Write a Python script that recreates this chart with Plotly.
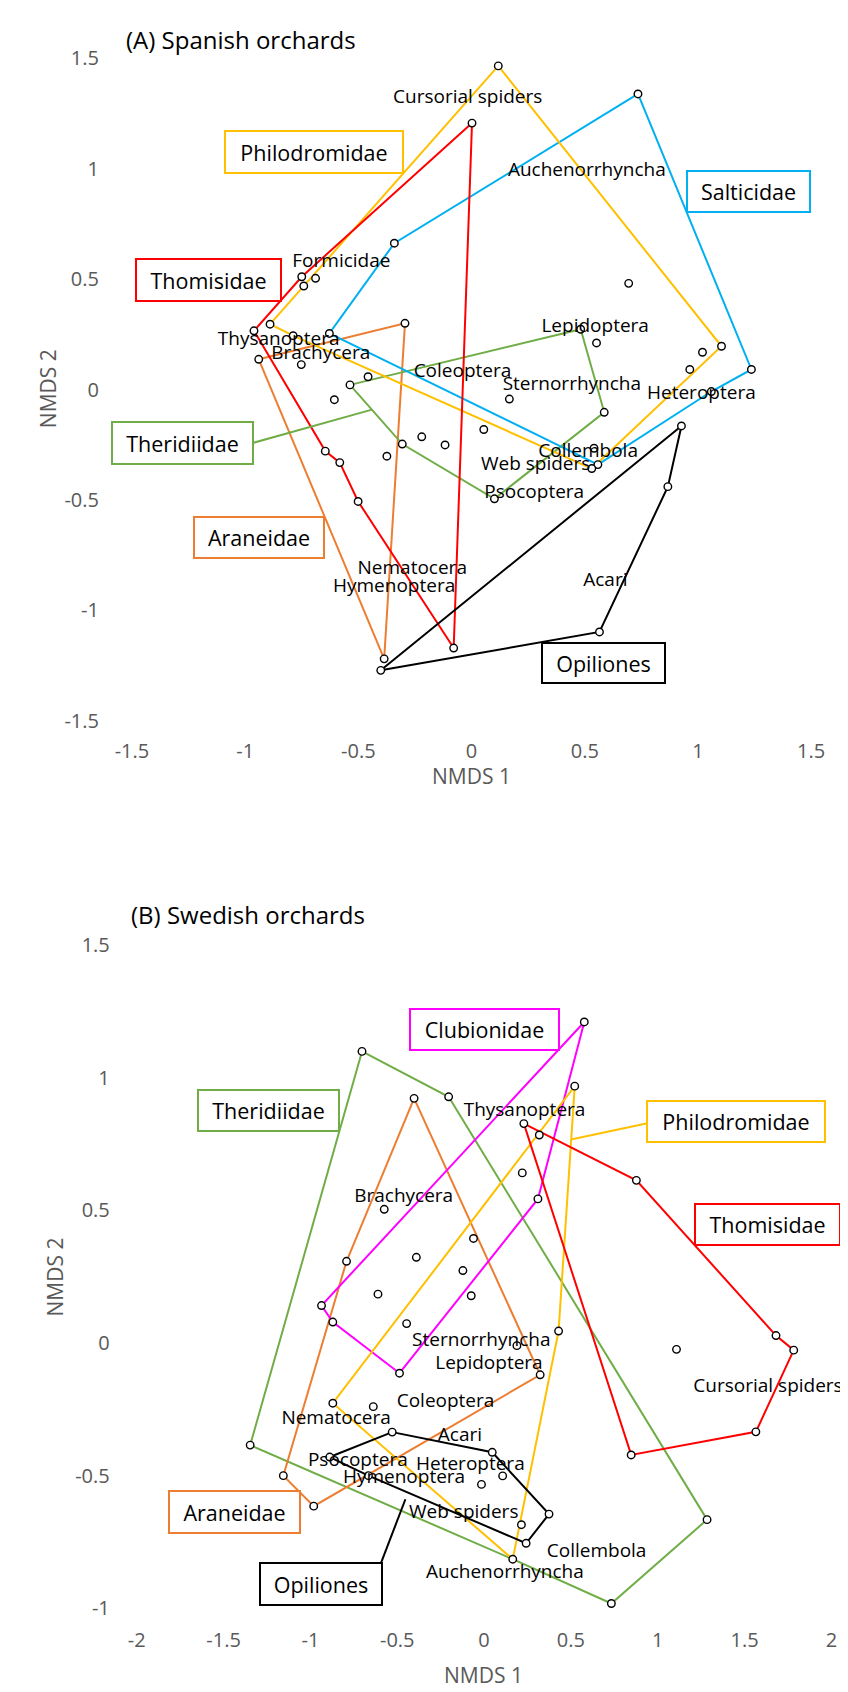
import plotly.graph_objects as go

W, H = 848, 1692
FONT = "Open Sans"

# ---------------- Panel A: Spanish orchards ----------------
a_x = [0.118, 0.735, 0.002, -0.750, -0.689, -0.741, -0.341, 0.694, -0.961, -0.890,
       -0.788, -0.628, -0.294, -0.940, -0.752, 0.482, 0.552, 1.104, 1.020, 0.964,
       1.236, 1.059, -0.457, -0.537, -0.606, 0.167, 0.586, 0.927, 0.054, -0.220,
       -0.117, -0.306, -0.374, -0.646, -0.582, 0.541, 0.558, 0.531, 0.101, 0.867,
       -0.501, 0.565, -0.079, -0.386, -0.401]
a_y = [1.466, 1.339, 1.207, 0.511, 0.504, 0.469, 0.663, 0.481, 0.266, 0.296,
       0.244, 0.254, 0.300, 0.137, 0.113, 0.273, 0.211, 0.196, 0.169, 0.091,
       0.091, -0.009, 0.058, 0.021, -0.046, -0.043, -0.103, -0.165, -0.181, -0.214,
       -0.251, -0.247, -0.302, -0.279, -0.331, -0.266, -0.340, -0.358, -0.495, -0.440,
       -0.507, -1.098, -1.171, -1.220, -1.272]
# hull vertex indices (1-based, order of the point lists above)
a_thomisidae = [3, 4, 9, 34, 35, 41, 43]
a_philodromidae = [1, 18, 38, 11, 10, 6]
a_salticidae = [2, 21, 22, 37, 12, 7]
a_araneidae = [14, 13, 44]
a_theridiidae = [24, 16, 27, 39, 32]
a_opiliones = [28, 40, 42, 45]

a_taxa = ["Cursorial spiders", "Auchenorrhyncha", "Formicidae", "Thysanoptera", "Brachycera",
          "Coleoptera", "Lepidoptera", "Sternorrhyncha", "Heteroptera", "Collembola",
          "Web spiders", "Psocoptera", "Nematocera", "Hymenoptera", "Acari"]
a_taxa_x = [-0.017, 0.509, -0.575, -0.852, -0.666, -0.040, 0.546, 0.443, 1.015, 0.515,
            0.283, 0.277, -0.262, -0.342, 0.591]
a_taxa_y = [1.320, 0.990, 0.578, 0.224, 0.162, 0.077, 0.281, 0.018, -0.021, -0.284,
            -0.343, -0.470, -0.814, -0.897, -0.868]

# ---------------- Panel B: Swedish orchards ----------------
b_x = [0.577, -0.703, 0.522, -0.204, -0.403, 0.229, 0.318, 0.220, 0.877, 0.310,
       -0.575, -0.061, -0.390, -0.792, -0.122, -0.611, -0.074, -0.936, -0.871, -0.446,
       0.429, 1.681, 1.108, 1.783, 0.189, -0.487, 0.323, -0.871, -0.638, -0.529,
       1.565, -1.347, 0.047, 0.847, -0.889, -1.156, -0.666, 0.107, -0.015, -0.981,
       0.374, 1.284, 0.215, 0.242, 0.165, 0.733]
b_y = [1.210, 1.099, 0.968, 0.928, 0.922, 0.827, 0.784, 0.641, 0.613, 0.543,
       0.504, 0.394, 0.323, 0.308, 0.273, 0.184, 0.178, 0.141, 0.079, 0.073,
       0.045, 0.028, -0.024, -0.027, -0.010, -0.114, -0.120, -0.227, -0.240, -0.336,
       -0.335, -0.385, -0.412, -0.422, -0.430, -0.500, -0.500, -0.501, -0.533, -0.615,
       -0.645, -0.666, -0.685, -0.755, -0.815, -0.982]
b_theridiidae = [2, 4, 42, 46, 45, 32]
b_araneidae = [5, 27, 40, 36, 14]
b_clubionidae = [1, 10, 26, 19, 18]
b_philodromidae = [3, 21, 45, 28]
b_thomisidae = [6, 9, 22, 24, 31, 34]
b_opiliones = [30, 33, 41, 44, 37, 35]

b_taxa = ["Thysanoptera", "Brachycera", "Sternorrhyncha", "Lepidoptera", "Coleoptera",
          "Nematocera", "Acari", "Psocoptera", "Heteroptera", "Hymenoptera",
          "Web spiders", "Collembola", "Auchenorrhyncha", "Cursorial spiders"]
b_taxa_x = [0.233, -0.463, -0.016, 0.028, -0.222, -0.852, -0.139, -0.727, -0.079, -0.461,
            -0.117, 0.648, 0.120, 1.635]
b_taxa_y = [0.873, 0.548, 0.007, -0.079, -0.224, -0.289, -0.351, -0.444, -0.462, -0.508,
            -0.642, -0.790, -0.867, -0.168]

a_ticks = [-1.5, -1, -0.5, 0, 0.5, 1, 1.5]
a_ticktext = ["-1.5", "-1", "-0.5", "0", "0.5", "1", "1.5"]
bx_ticks = [-2, -1.5, -1, -0.5, 0, 0.5, 1, 1.5, 2]
bx_ticktext = ["-2", "-1.5", "-1", "-0.5", "0", "0.5", "1", "1.5", "2"]
by_ticks = [-1, -0.5, 0, 0.5, 1, 1.5]
by_ticktext = ["-1", "-0.5", "0", "0.5", "1", "1.5"]

COL = {"Thomisidae": "#FF0000", "Philodromidae": "#FFC000", "Salticidae": "#00B0F0",
       "Araneidae": "#ED7D31", "Theridiidae": "#70AD47", "Opiliones": "#000000",
       "Clubionidae": "#FF00FF"}

fig = go.Figure()


def add_hull(xs, ys, idx, color, xa, ya):
    hx = [xs[i - 1] for i in idx] + [xs[idx[0] - 1]]
    hy = [ys[i - 1] for i in idx] + [ys[idx[0] - 1]]
    fig.add_trace(go.Scatter(x=hx, y=hy, mode="lines", line=dict(color=color, width=2),
                             xaxis=xa, yaxis=ya, showlegend=False, hoverinfo="skip"))


for name, idx in [("Araneidae", a_araneidae), ("Theridiidae", a_theridiidae),
                  ("Salticidae", a_salticidae), ("Philodromidae", a_philodromidae),
                  ("Thomisidae", a_thomisidae), ("Opiliones", a_opiliones)]:
    add_hull(a_x, a_y, idx, COL[name], "x", "y")

for name, idx in [("Theridiidae", b_theridiidae), ("Araneidae", b_araneidae),
                  ("Clubionidae", b_clubionidae), ("Philodromidae", b_philodromidae),
                  ("Thomisidae", b_thomisidae), ("Opiliones", b_opiliones)]:
    add_hull(b_x, b_y, idx, COL[name], "x2", "y2")

for xs, ys, xa, ya in [(a_x, a_y, "x", "y"), (b_x, b_y, "x2", "y2")]:
    fig.add_trace(go.Scatter(x=xs, y=ys, mode="markers", xaxis=xa, yaxis=ya,
                             marker=dict(size=7.5, color="white",
                                         line=dict(color="black", width=1.4)),
                             cliponaxis=False, showlegend=False))

for tx, ty, tt, xa, ya in [(a_taxa_x, a_taxa_y, a_taxa, "x", "y"),
                           (b_taxa_x, b_taxa_y, b_taxa, "x2", "y2")]:
    fig.add_trace(go.Scatter(x=tx, y=ty, text=tt, mode="text", xaxis=xa, yaxis=ya,
                             textposition="middle center", cliponaxis=False,
                             textfont=dict(family=FONT, size=19, color="black"),
                             showlegend=False))


def px2paper(px, py):
    return px / W, 1 - py / H


# boxed family labels: (text, center px x, center px y, box w, box h)
boxes = [("Philodromidae", 300, 132, 180, 44), ("Thomisidae", 190.5, 262, 147, 44),
         ("Salticidae", 750.5, 172.5, 125, 43), ("Theridiidae", 163.5, 428, 143, 44),
         ("Araneidae", 243, 523.5, 132, 43), ("Opiliones", 600.5, 651, 125, 42),
         ("Clubionidae", 476.7, 1024, 151, 43), ("Theridiidae", 252.7, 1105.8, 143, 43),
         ("Philodromidae", 738, 1117.7, 180, 43), ("Thomisidae", 771, 1222.5, 147, 43),
         ("Araneidae", 217, 1514, 133, 44), ("Opiliones", 307, 1587.5, 124, 44)]
for t, cx, cy, bw, bh in boxes:
    xp, yp = px2paper(cx, cy)
    fig.add_annotation(x=xp, y=yp, xref="paper", yref="paper", text=t, showarrow=False,
                       xanchor="center", yanchor="middle", width=bw - 6, height=bh - 6,
                       align="center", valign="middle", bgcolor="white",
                       bordercolor=COL[t], borderwidth=2, borderpad=1,
                       font=dict(family=FONT, size=21.5, color="black"))

# leader lines (px start at box, data end on hull)
leaders = [("Theridiidae", 235, 427.7, -0.440, -0.091, "x", "y"),
           ("Philodromidae", 648, 1118.3, 0.507, 0.768, "x2", "y2"),
           ("Opiliones", 369, 1565.7, -0.453, -0.589, "x2", "y2")]
for t, sx, sy, ex, ey, xa, ya in leaders:
    if xa == "x":
        dx, dy = (sx - 463.5) / 235.0, (373 - sy) / 224.3
    else:
        dx, dy = (sx - 476) / 180.2, (1342 - sy) / 269.6
    fig.add_shape(type="line", x0=dx, y0=dy, x1=ex, y1=ey, xref=xa, yref=ya,
                  line=dict(color=COL[t], width=2))

# titles
for t, cx, cy in [("(A) Spanish orchards", 224, 18), ("(B) Swedish orchards", 231, 907)]:
    xp, yp = px2paper(cx, cy)
    fig.add_annotation(x=xp, y=yp, xref="paper", yref="paper", text=t, showarrow=False,
                       xanchor="center", yanchor="middle",
                       font=dict(family=FONT, size=24, color="black"))

# axis titles
for t, cx, cy, ang in [("NMDS 1", 463, 766, 0), ("NMDS 2", 24, 373, -90),
                       ("NMDS 1", 476, 1680, 0), ("NMDS 2", 31, 1275, -90)]:
    xp, yp = px2paper(cx, cy)
    fig.add_annotation(x=xp, y=yp, xref="paper", yref="paper", text=t, showarrow=False,
                       xanchor="center", yanchor="middle", textangle=ang,
                       font=dict(family=FONT, size=21, color="#595959"))

ax_common = dict(showgrid=False, zeroline=False, showline=False, ticks="",
                 tickfont=dict(family=FONT, size=20, color="#595959"), tickmode="array")

fig.update_layout(
    width=W, height=H, margin=dict(l=0, r=0, t=0, b=0),
    paper_bgcolor="white", plot_bgcolor="white", showlegend=False,
    xaxis=dict(domain=[111 / W, 816 / W], range=[-1.5, 1.5], anchor="y",
               tickvals=a_ticks, ticktext=a_ticktext, ticklabelstandoff=16, **ax_common),
    yaxis=dict(domain=[1 - 710 / H, 1 - 37 / H], range=[-1.5, 1.5], anchor="x",
               tickvals=a_ticks, ticktext=a_ticktext, ticklabelstandoff=32, **ax_common),
    xaxis2=dict(domain=[116 / W, 837 / W], range=[-2, 2], anchor="y2",
                tickvals=bx_ticks, ticktext=bx_ticktext, ticklabelstandoff=18, **ax_common),
    yaxis2=dict(domain=[1 - 1612 / H, 1 - 938 / H], range=[-1, 1.5], anchor="x2",
                tickvals=by_ticks, ticktext=by_ticktext, ticklabelstandoff=26, **ax_common),
)

fig.write_html("out.html")
